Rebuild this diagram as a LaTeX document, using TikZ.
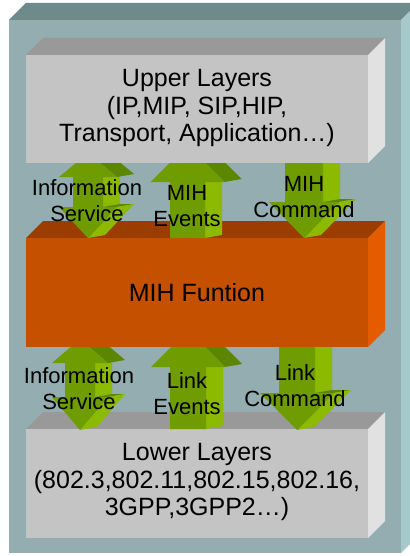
\documentclass[tikz,border=0pt]{standalone}
\usepackage{fontspec}
\setmainfont{Liberation Sans}
\definecolor{ofront}{HTML}{93ADB0}
\definecolor{otop}{HTML}{6F8A8B}
\definecolor{oside}{HTML}{A8C9CB}
\definecolor{gyfront}{HTML}{C4C4C4}
\definecolor{gytop}{HTML}{999999}
\definecolor{gyside}{HTML}{E1E1E1}
\definecolor{orfront}{HTML}{C55000}
\definecolor{ortop}{HTML}{9B3D00}
\definecolor{orside}{HTML}{E55C00}
\definecolor{gnfront}{HTML}{6F9C00}
\definecolor{gnside}{HTML}{8CBA00}
\definecolor{gntop}{HTML}{5B8700}
\tikzset{
  mainlbl/.style={font=\fontsize{25}{27.5}\selectfont, align=center, inner sep=0pt},
  arrlbl/.style={font=\fontsize{22}{26}\selectfont, align=center, inner sep=0pt},
}
\newcommand\dX{17}
\newcommand\dY{3}
% 3D box: x1 y1 x2 y2 depth front top side
\newcommand\boxthreed[8]{%
  \fill[#7] (#1,#2) -- ({#1+#5},{#2-#5}) -- ({#3+#5},{#2-#5}) -- (#3,#2) -- cycle;
  \fill[#8] (#3,#2) -- ({#3+#5},{#2-#5}) -- ({#3+#5},{#4-#5}) -- (#3,#4) -- cycle;
  \fill[#6] (#1,#2) rectangle (#3,#4);
}
% up arrow: cx sw hw tip-y bottom-y headlength
\newcommand\arrowup[6]{%
  \fill[gnside] ({#1+#2},{#4+#6}) -- ({#1+#2},#5) -- ({#1+#2+\dX},{#5-\dY}) -- ({#1+#2+\dX},{#4+#6-\dY}) -- cycle;
  \fill[gntop] (#1,#4) -- ({#1+#3},{#4+#6}) -- ({#1+#3+\dX},{#4+#6-\dY}) -- ({#1+\dX},{#4-\dY}) -- cycle;
  \fill[gnfront] (#1,#4) -- ({#1+#3},{#4+#6}) -- ({#1+#2},{#4+#6}) -- ({#1+#2},#5) -- ({#1-#2},#5) -- ({#1-#2},{#4+#6}) -- ({#1-#3},{#4+#6}) -- cycle;
}
% down arrow: cx sw hw top-y tip-y headlength
\newcommand\arrowdown[6]{%
  \fill[gnside] ({#1+#2},#4) -- ({#1+#2},{#5-#6}) -- ({#1+#2+\dX},{#5-#6-\dY}) -- ({#1+#2+\dX},{#4-\dY}) -- cycle;
  \fill[gntop] ({#1+#2},{#5-#6}) -- ({#1+#3},{#5-#6}) -- ({#1+#3+\dX},{#5-#6-\dY}) -- ({#1+#2+\dX},{#5-#6-\dY}) -- cycle;
  \fill[gnside] ({#1+#3},{#5-#6}) -- (#1,#5) -- ({#1+\dX},{#5-\dY}) -- ({#1+#3+\dX},{#5-#6-\dY}) -- cycle;
  \fill[gnfront] ({#1-#2},#4) -- ({#1+#2},#4) -- ({#1+#2},{#5-#6}) -- ({#1+#3},{#5-#6}) -- (#1,#5) -- ({#1-#3},{#5-#6}) -- ({#1-#2},{#5-#6}) -- cycle;
}
% double arrow: cx sw hw uptip-y uphl downtip-y downhl
\newcommand\arrowboth[7]{%
  \fill[gnside] ({#1+#2},{#4+#5}) -- ({#1+#2},{#6-#7}) -- ({#1+#2+\dX},{#6-#7-\dY}) -- ({#1+#2+\dX},{#4+#5-\dY}) -- cycle;
  \fill[gntop] (#1,#4) -- ({#1+#3},{#4+#5}) -- ({#1+#3+\dX},{#4+#5-\dY}) -- ({#1+\dX},{#4-\dY}) -- cycle;
  \fill[gntop] ({#1+#2},{#6-#7}) -- ({#1+#3},{#6-#7}) -- ({#1+#3+\dX},{#6-#7-\dY}) -- ({#1+#2+\dX},{#6-#7-\dY}) -- cycle;
  \fill[gnside] ({#1+#3},{#6-#7}) -- (#1,#6) -- ({#1+\dX},{#6-\dY}) -- ({#1+#3+\dX},{#6-#7-\dY}) -- cycle;
  \fill[gnfront] (#1,#4) -- ({#1+#3},{#4+#5}) -- ({#1+#2},{#4+#5}) -- ({#1+#2},{#6-#7}) -- ({#1+#3},{#6-#7}) -- (#1,#6) -- ({#1-#3},{#6-#7}) -- ({#1-#2},{#6-#7}) -- ({#1-#2},{#4+#5}) -- ({#1-#3},{#4+#5}) -- cycle;
}
\begin{document}
\begin{tikzpicture}[x=1pt,y=-1pt]
\useasboundingbox (0,0) rectangle (409,556);
% outer box
\fill[otop] (9,20) -- (26,3) -- (418,3) -- (401,20) -- cycle;
\fill[oside] (401,20) -- (418,3) -- (418,536) -- (401,553) -- cycle;
\fill[ofront] (9,20) rectangle (401,553);
% lower layers
\boxthreed{26}{429}{368}{538}{17}{gyfront}{gytop}{gyside}
% lower arrows
\arrowboth{80}{15}{28}{339}{24}{430}{33}
\arrowup{188}{18}{37}{330}{429}{37}
\arrowdown{297}{18}{37}{330}{430}{37}
% MIH function
\boxthreed{26}{238}{368}{347}{17}{orfront}{ortop}{orside}
% upper arrows
\arrowboth{88}{15}{29}{153}{24}{238}{31}
\arrowup{187.5}{17.5}{37}{145}{238}{37}
\arrowdown{304}{19}{35}{150}{238}{36}
% upper layers
\boxthreed{26}{55}{368}{163}{17}{gyfront}{gytop}{gyside}
% texts
\node[mainlbl] (upper) at (197,108) {Upper Layers\\(IP,MIP, SIP,HIP,\\Transport, Application…)};
\node[mainlbl] (mih) at (197,293) {MIH Funtion};
\node[mainlbl] (lower) at (197,482) {Lower Layers\\(802.3,802.11,802.15,802.16,\\3GPP,3GPP2…)};
\node[arrlbl] (isup) at (87,201) {Information\\Service};
\node[arrlbl] (mihev) at (187,206) {MIH\\Events};
\node[arrlbl] (mihcmd) at (304,197) {MIH\\Command};
\node[arrlbl] (islow) at (79,389) {Information\\Service};
\node[arrlbl] (linkev) at (187,394) {Link\\Events};
\node[arrlbl] (linkcmd) at (295,386) {Link\\Command};
\end{tikzpicture}
\end{document}
